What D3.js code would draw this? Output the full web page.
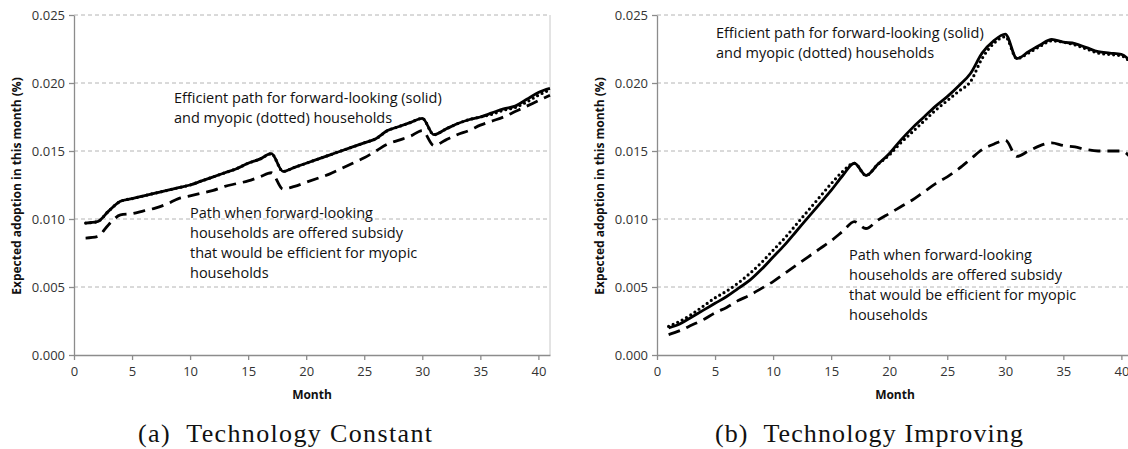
<!DOCTYPE html>
<html><head><meta charset="utf-8">
<script src="https://cdn.jsdelivr.net/npm/d3@7"></script>
<style>body{margin:0;background:#fff}svg{display:block}</style>
</head><body>
<script>
// ---------- data ----------
const months = d3.range(1, 42);
const yTicks = [0, 0.005, 0.010, 0.015, 0.020, 0.025];
const xTicks = [0, 5, 10, 15, 20, 25, 30, 35, 40];

// (a) Technology constant
const aForward = [0.0097,0.0098,0.0106,0.0113,0.0115,0.0117,0.0119,0.0121,0.0123,0.0125,
  0.0128,0.0131,0.0134,0.0137,0.0141,0.0144,0.0148,0.0135,0.0138,0.0141,
  0.0144,0.0147,0.0150,0.0153,0.0156,0.0159,0.0165,0.0168,0.0171,0.0174,
  0.0162,0.0166,0.0170,0.0173,0.0175,0.0178,0.0181,0.0183,0.0188,0.0193,0.0196];
const aMyopic = [0.0097,0.0098,0.0106,0.0113,0.0115,0.0117,0.0119,0.0121,0.0123,0.0125,
  0.0128,0.0131,0.0134,0.0137,0.0141,0.0144,0.0148,0.0135,0.0138,0.0141,
  0.0144,0.0147,0.0150,0.0153,0.0156,0.0159,0.0165,0.0168,0.0171,0.0174,
  0.0162,0.0166,0.0170,0.0173,0.0175,0.0177,0.0180,0.0182,0.0186,0.0191,0.0195];
const aMisSubsidy = [0.0086,0.0087,0.0096,0.0103,0.0104,0.0106,0.0108,0.0111,0.0115,0.0117,
  0.0119,0.0121,0.0124,0.0126,0.0128,0.0131,0.0134,0.0122,0.0124,0.0127,
  0.0130,0.0133,0.0137,0.0141,0.0145,0.0150,0.0155,0.0158,0.0161,0.0165,
  0.0154,0.0158,0.0162,0.0165,0.0169,0.0172,0.0175,0.0179,0.0183,0.0187,0.0191];

// (b) Technology improving
const bForward = [0.0020,0.0023,0.0028,0.0033,0.0038,0.0043,0.0049,0.0055,0.0063,0.0072,
  0.0081,0.0091,0.0101,0.0111,0.0121,0.0132,0.0141,0.0132,0.0140,0.0148,
  0.0158,0.0167,0.0175,0.0183,0.0190,0.0198,0.0207,0.0222,0.0231,0.0236,
  0.0218,0.0223,0.0228,0.0232,0.0230,0.0229,0.0226,0.0223,0.0222,0.0221,0.0214];
const bMyopic = [0.0021,0.0025,0.0030,0.0036,0.0042,0.0047,0.0053,0.0060,0.0068,0.0077,
  0.0086,0.0096,0.0106,0.0116,0.0126,0.0135,0.0141,0.0132,0.0140,0.0147,
  0.0156,0.0164,0.0172,0.0180,0.0187,0.0194,0.0201,0.0218,0.0229,0.0234,
  0.0218,0.0222,0.0227,0.0231,0.0230,0.0228,0.0225,0.0222,0.0221,0.0220,0.0213];
const bMisSubsidy = [0.0015,0.0018,0.0022,0.0026,0.0031,0.0035,0.0040,0.0044,0.0049,0.0054,
  0.0060,0.0066,0.0072,0.0078,0.0084,0.0091,0.0098,0.0093,0.0099,0.0104,
  0.0109,0.0114,0.0120,0.0126,0.0131,0.0137,0.0144,0.0151,0.0155,0.0158,
  0.0146,0.0150,0.0154,0.0156,0.0154,0.0153,0.0151,0.0150,0.0150,0.0150,0.0143];

const yTitle = "Expected adoption in this month (%)";
const xTitle = "Month";
const noteTop = ["Efficient path for forward-looking (solid)", "and myopic (dotted) households"];
const noteBottom = ["Path when forward-looking", "households are offered subsidy",
  "that would be efficient for myopic", "households"];

// ---------- drawing ----------
const W = 1128, H = 449;
const svg = d3.select("body").append("svg").attr("width", W).attr("height", H);
const sans = "'Open Sans', 'Noto Sans', sans-serif";
const axisCol = "#8c8c8c";

function panel(cfg) {
  const x = d3.scaleLinear().domain([0, 41]).range([cfg.x0, cfg.x0 + 476]);
  const y = d3.scaleLinear().domain([0, 0.025]).range([355, 15]);
  const g = svg.append("g");

  // gridlines
  g.selectAll("line.grid").data(yTicks.slice(1)).join("line")
    .attr("x1", x(0)).attr("x2", x(41))
    .attr("y1", d => y(d)).attr("y2", d => y(d))
    .attr("stroke", "#b4b4b4").attr("stroke-width", 1).attr("stroke-dasharray", "4,3");
  // right border
  g.append("line").attr("x1", x(41)).attr("x2", x(41)).attr("y1", y(0.025)).attr("y2", y(0))
    .attr("stroke", "#c8c8c8");

  // y axis
  const ya = g.append("g").attr("transform", `translate(${x(0)},0)`)
    .call(d3.axisLeft(y).tickValues(yTicks).tickFormat(d3.format(".3f")).tickSize(5).tickSizeOuter(0));
  // x axis
  const xa = g.append("g").attr("transform", `translate(0,${y(0)})`)
    .call(d3.axisBottom(x).tickValues(xTicks).tickFormat(d3.format("d")).tickSize(5).tickSizeOuter(0));
  [ya, xa].forEach(a => {
    a.select(".domain").attr("stroke", axisCol).attr("stroke-width", 1.3);
    a.selectAll(".tick line").attr("stroke", axisCol).attr("stroke-width", 1.3);
    a.selectAll(".tick text").attr("font-family", sans).attr("font-size", 13).attr("fill", "#333");
  });
  ya.selectAll(".tick text").attr("x", -9);
  xa.selectAll(".tick text").attr("y", 12);

  // titles
  g.append("text").attr("x", (x(0) + x(41)) / 2).attr("y", 399).attr("text-anchor", "middle")
    .attr("font-family", sans).attr("font-weight", "bold").attr("font-size", 12).attr("fill", "#111").text(xTitle);
  g.append("text").attr("transform", `translate(${cfg.x0 - 53},186) rotate(-90)`)
    .attr("text-anchor", "middle").attr("font-family", sans).attr("font-weight", "bold")
    .attr("font-size", 12).attr("fill", "#111").text(yTitle);

  // lines
  const line = vals => d3.line().x((d, i) => x(months[i])).y(d => y(d)).curve(d3.curveMonotoneX)(vals);
  g.append("path").attr("d", line(cfg.dash)).attr("fill", "none").attr("stroke", "#000")
    .attr("stroke-width", 2.8).attr("stroke-dasharray", "12,7");
  g.append("path").attr("d", line(cfg.solid)).attr("fill", "none").attr("stroke", "#000")
    .attr("stroke-width", 2.8);
  g.append("path").attr("d", line(cfg.dot)).attr("fill", "none").attr("stroke", "#000")
    .attr("stroke-width", 3.2).attr("stroke-linecap", "round").attr("stroke-dasharray", "0,5");

  // notes
  const note = (lines, nx, ny) => {
    const t = g.append("text").attr("font-family", sans).attr("font-size", 14.5).attr("fill", "#111");
    lines.forEach((s, i) => t.append("tspan").attr("x", nx).attr("y", ny + i * 20).text(s));
  };
  note(noteTop, cfg.tx, cfg.ty);
  note(noteBottom, cfg.bx, cfg.by);

  // caption
  svg.append("text").attr("x", cfg.capx).attr("y", 442)
    .attr("font-family", "'Liberation Serif', serif").attr("font-size", 26).attr("fill", "#111")
    .attr("xml:space", "preserve").attr("textLength", cfg.capw).attr("lengthAdjust", "spacing")
    .text(cfg.caption);
}

panel({x0: 74, solid: aForward, dot: aMyopic, dash: aMisSubsidy,
  tx: 174, ty: 103, bx: 190, by: 218, capx: 138, capw: 294, caption: "(a)  Technology Constant"});
panel({x0: 657, solid: bForward, dot: bMyopic, dash: bMisSubsidy,
  tx: 716, ty: 38, bx: 849, by: 260, capx: 715, capw: 308, caption: "(b)  Technology Improving"});
</script>
</body></html>
